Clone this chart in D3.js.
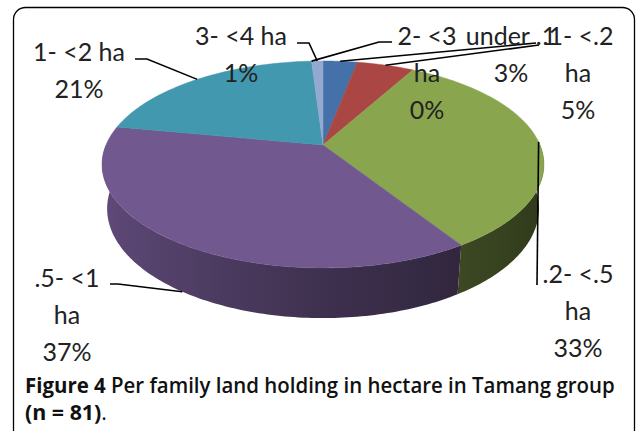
<!DOCTYPE html>
<html>
<head>
<meta charset="utf-8">
<script src="https://cdn.jsdelivr.net/npm/d3@7"></script>
<style>
  body { margin: 0; background: #fff; }
</style>
</head>
<body>
<div id="chart"></div>
<script>
var categories = ['under .1', '.1- <.2 ha', '.2- <.5 ha', '.5- <1 ha', '1- <2 ha', '2- <3 ha', '3- <4 ha'];
var shares = [3, 5, 33, 37, 21, 0, 1];
var colors = ['#4471A8', '#AA4643', '#89A54E', '#71588F', '#4198AF', '#DB843D', '#93A9CF'];
var captionBold = 'Figure 4';
var captionRest = ' Per family land holding in hectare in Tamang group';
var captionLine2 = '(n = 81)';

// where each label sits and how its leader bends (layout only)
var labelLayout = [
  { x: 511, y: 45, wrap: false, leader: [[536, 43]] },
  { x: 578, y: 45, wrap: true, leader: [[539, 45]] },
  { x: 578, y: 283, wrap: true, leader: [[537, 285]] },
  { x: 67, y: 287, wrap: true, leader: [[110, 284], [118, 284]] },
  { x: 79, y: 61, wrap: false, leader: [[135, 59], [147, 59]] },
  { x: 427, y: 45, wrap: true, leader: [[392, 42], [379, 42]] },
  { x: 241, y: 45, wrap: false, leader: [[297, 43], [309, 43]] }
];

var width = 637, height = 431;
var svg = d3.select('#chart').append('svg')
  .attr('width', width)
  .attr('height', height);
var defs = svg.append('defs');

// chart area frame
svg.append('rect')
  .attr('x', 13.5).attr('y', 7.5)
  .attr('width', 621).attr('height', 440)
  .attr('rx', 12)
  .attr('fill', 'none')
  .attr('stroke', '#000')
  .attr('stroke-width', 1.3);

// perspective projection of the pie disc
var cx = 323, cy = 145;
var A = 217;          // half width in px
var K = 0.188;        // perspective strength
var sinPhi = 0.46, cosPhi = 0.887;
var depthH = 0.232;   // thickness relative to radius

function project(theta, level) {
  var h = level * depthH;
  var d = 1 + K * Math.cos(theta) + h * (K / cosPhi) * sinPhi;
  return [cx + A * Math.sin(theta) / d,
          cy - A * (Math.cos(theta) * sinPhi - h * cosPhi) / d];
}

var arcs = d3.pie().sort(null).value(function (d) { return d; })(shares);
var line = d3.line();
var shade = d3.scaleLinear().domain([-1, 0, 1]).range([0.86, 0.55, 0.34]).clamp(true);
var step = Math.PI / 180;

function tint(c, b) {
  c = d3.rgb(c);
  return d3.rgb(c.r * b, c.g * b, c.b * b).toString();
}

// light falls from the left: one horizontal gradient per slice wall
var xL = project(Math.PI * 1.44, 0)[0], xR = project(Math.PI * 0.56, 0)[0];
arcs.forEach(function (a, i) {
  var g = defs.append('linearGradient')
    .attr('id', 'wall' + i)
    .attr('gradientUnits', 'userSpaceOnUse')
    .attr('x1', xL).attr('x2', xR).attr('y1', 0).attr('y2', 0);
  for (var t = 1.44; t >= 0.56; t -= 0.04) {
    var th = t * Math.PI;
    g.append('stop')
      .attr('offset', (project(th, 0)[0] - xL) / (xR - xL))
      .attr('stop-color', tint(colors[i], shade(Math.sin(th))));
  }
});

// side walls, front half only, far ones first
var walls = arcs.map(function (a) {
  return { i: a.index, t0: Math.max(a.startAngle, Math.PI / 2), t1: Math.min(a.endAngle, Math.PI * 1.5) };
}).filter(function (w) { return w.t1 > w.t0; });

function wallPath(w) {
  var n = Math.max(1, Math.ceil((w.t1 - w.t0) / step));
  var top = [], bottom = [];
  for (var j = 0; j <= n; j++) {
    var t = w.t0 + (w.t1 - w.t0) * j / n;
    top.push(project(t, 0));
    bottom.push(project(t, 1));
  }
  return line(top.concat(bottom.reverse())) + 'Z';
}

svg.append('g').selectAll('path')
  .data(walls)
  .enter().append('path')
    .attr('d', wallPath)
    .attr('fill', function (w) { return 'url(#wall' + w.i + ')'; });

// top faces
function topFace(a) {
  var pts = [[cx, cy]];
  var n = Math.max(1, Math.ceil((a.endAngle - a.startAngle) / step));
  for (var j = 0; j <= n; j++) {
    pts.push(project(a.startAngle + (a.endAngle - a.startAngle) * j / n, 0));
  }
  return line(pts) + 'Z';
}

svg.append('g').selectAll('path')
  .data(arcs.filter(function (a) { return a.endAngle > a.startAngle; }))
  .enter().append('path')
    .attr('d', topFace)
    .attr('fill', function (a) { return colors[a.index]; })
    .attr('stroke', function (a) { return colors[a.index]; })
    .attr('stroke-width', 0.5);

// leader lines
var total = d3.sum(shares);
svg.append('g').selectAll('path')
  .data(arcs)
  .enter().append('path')
    .attr('d', function (a, i) {
      var mid = (a.startAngle + a.endAngle) / 2;
      var anchor = project(mid, Math.cos(mid) < -0.5 ? 1 : 0);
      return line(labelLayout[i].leader.concat([anchor]));
    })
    .attr('fill', 'none')
    .attr('stroke', '#000')
    .attr('stroke-width', 1.6);

// data labels
var labels = svg.append('g')
  .attr('font-family', 'Lato, "Open Sans", sans-serif')
  .attr('font-size', 25)
  .attr('fill', '#222')
  .attr('text-anchor', 'middle');

categories.forEach(function (name, i) {
  var lay = labelLayout[i];
  var pct = Math.round(shares[i] / total * 100) + '%';
  var lines = lay.wrap ? [name.replace(/ ha$/, ''), 'ha', pct] : [name, pct];
  var t = labels.append('text').attr('x', lay.x).attr('y', lay.y);
  lines.forEach(function (s, k) {
    t.append('tspan').attr('x', lay.x).attr('dy', k === 0 ? 0 : 37).text(s);
  });
});

// caption, squeezed horizontally to the width of the original
function caption(y, parts, target) {
  var g = svg.append('g');
  var t = g.append('text')
    .attr('font-family', '"Open Sans", sans-serif')
    .attr('font-size', 22)
    .attr('fill', '#111');
  parts.forEach(function (p) {
    t.append('tspan').attr('font-weight', p[1]).text(p[0]);
  });
  var w = t.node().getComputedTextLength();
  g.attr('transform', 'translate(25,' + y + ') scale(' + (target / w) + ',1)');
}

caption(393, [[captionBold, 700], [captionRest, 600]], 590);
caption(420, [[captionLine2, 700], ['.', 400]], 82);
</script>
</body>
</html>
